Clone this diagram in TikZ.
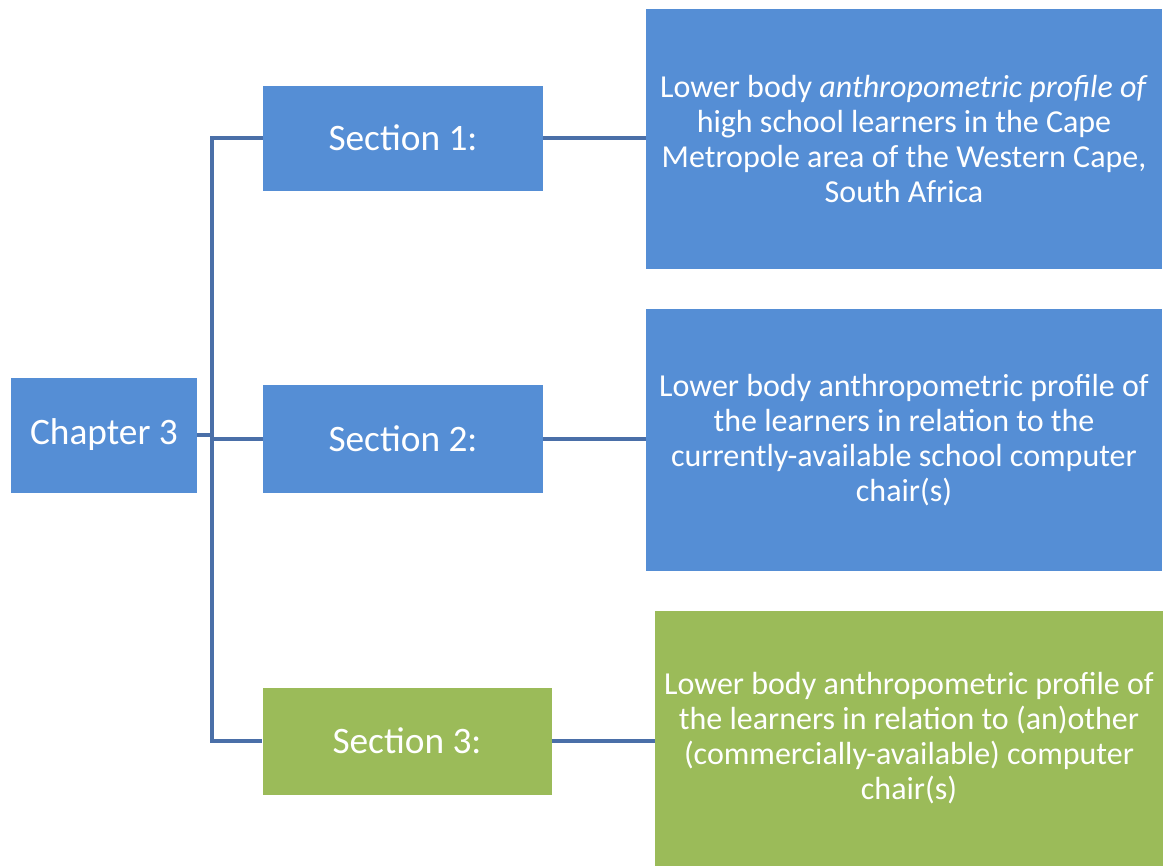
\documentclass[tikz,border=0pt]{standalone}
\usepackage{fontspec}
\setmainfont{Carlito}
\definecolor{boxblue}{HTML}{558ED5}
\definecolor{boxgreen}{HTML}{9BBB59}
\definecolor{linkblue}{HTML}{4A6FA8}
\tikzset{
  box/.style={fill=boxblue, text=white, align=center, inner sep=0pt,
    font=\fontsize{24}{26.3}\selectfont},
  greenbox/.style={box, fill=boxgreen},
  label/.style={font=\fontsize{28}{32}\selectfont},
  link/.style={draw=linkblue, line width=2.3pt}
}
\begin{document}
\begin{tikzpicture}[x=0.75pt, y=-0.75pt]

  % frame
  \useasboundingbox (0,0) rectangle (1163,865);

  % chapter
  \node[box, label, minimum width=0.75*186pt, minimum height=0.75*115pt] (ch) at (104,435) {Chapter 3};

  % sections
  \node[box, label, minimum width=0.75*280pt, minimum height=0.75*105pt] (s1) at (403,138) {Section 1:};
  \node[box, label, minimum width=0.75*280pt, minimum height=0.75*108pt] (s2) at (403,439) {Section 2:};
  \node[greenbox, label, minimum width=0.75*289pt, minimum height=0.75*107pt] (s3) at (407,741) {Section 3:};

  % descriptions
  \node[box, minimum width=0.75*516pt, minimum height=0.75*260pt] (d1) at (904,139)
    {Lower body \textit{anthropometric profile of}\\ high school learners in the Cape\\ Metropole area of the Western Cape,\\ South Africa};
  \node[box, minimum width=0.75*516pt, minimum height=0.75*262pt] (d2) at (904,440)
    {Lower body anthropometric profile of\\ the learners in relation to the\\ currently-available school computer\\ chair(s)};
  \node[greenbox, minimum width=0.75*508pt, minimum height=0.75*255pt] (d3) at (909,738)
    {Lower body anthropometric profile of\\ the learners in relation to (an)other\\ (commercially-available) computer\\ chair(s)};

  % tree lines
  \coordinate (jn) at (212,435);
  \draw[link] (ch.east) -- (jn);
  \draw[link] (s1.west) -- (s1.west -| jn) -- (s3.west -| jn) -- (s3.west);
  \draw[link] (s2.west) -- (s2.west -| jn);

  % section to description
  \draw[link] (s1.east) -- (s1.east -| d1.west);
  \draw[link] (s2.east) -- (s2.east -| d2.west);
  \draw[link] (s3.east) -- (s3.east -| d3.west);

\end{tikzpicture}
\end{document}
